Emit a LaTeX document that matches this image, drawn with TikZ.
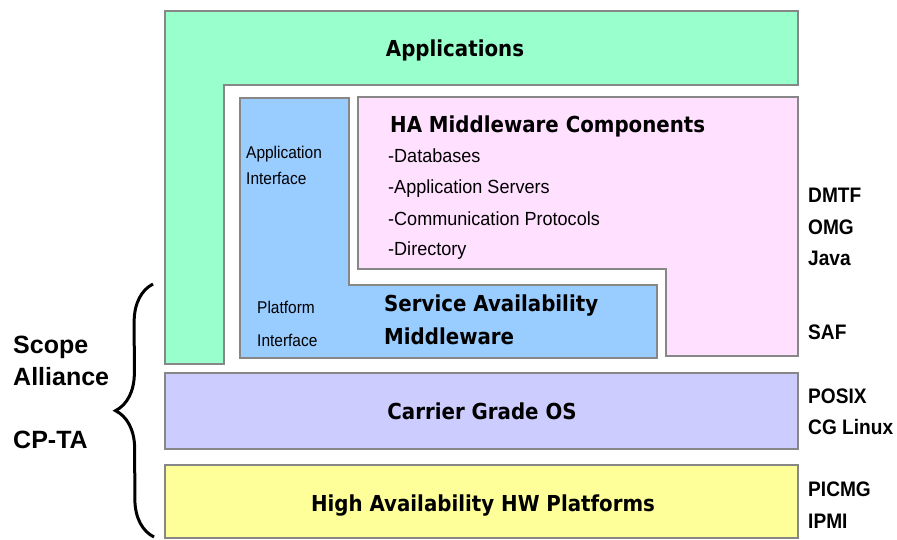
\documentclass[tikz,border=0pt]{standalone}
\usepackage{fontspec}
\setmainfont{Liberation Sans}
\newfontfamily\boxfont[FakeStretch=0.9]{DejaVu Sans}
\newfontfamily\listfont[FakeStretch=0.95]{Liberation Sans}
\newfontfamily\ifacefont[FakeStretch=0.91]{Liberation Sans}
\newfontfamily\tagfont[FakeStretch=0.91]{Liberation Sans}
\usetikzlibrary{decorations.pathreplacing}

\definecolor{appGreen}{RGB}{153,255,204}
\definecolor{samBlue}{RGB}{153,204,255}
\definecolor{haPink}{RGB}{255,224,255}
\definecolor{osPurple}{RGB}{204,204,255}
\definecolor{hwYellow}{RGB}{255,255,153}
\definecolor{borderGray}{RGB}{135,135,135}

\begin{document}
\begin{tikzpicture}
[x=1pt,y=-1pt,
  layerBox/.style={draw=borderGray,line width=1.4pt},
  boxLabel/.style={inner sep=0pt,font=\boxfont\bfseries\fontsize{22}{26}\selectfont},
  listLabel/.style={inner sep=0pt,anchor=base west,font=\listfont\fontsize{19}{22}\selectfont},
  ifaceLabel/.style={inner sep=0pt,anchor=base west,font=\ifacefont\fontsize{17}{20}\selectfont},
  tagLabel/.style={inner sep=0pt,anchor=base west,font=\tagfont\bfseries\fontsize{21}{24}\selectfont},
  scopeLabel/.style={inner sep=0pt,anchor=base west,font=\bfseries\fontsize{25}{30}\selectfont},
  braceDecorate/.style={decorate,decoration={brace,amplitude=38pt},line width=3pt}]
\useasboundingbox (0,0) rectangle (897,539);
%% layers
\path[layerBox,fill=appGreen] (165,11) -- (798,11) -- (798,85) -- (224,85)
  -- (224,364) -- (165,364) -- cycle;
\path[layerBox,fill=samBlue] (240,98) -- (349,98) -- (349,285) -- (657,285)
  -- (657,358) -- (240,358) -- cycle;
\path[layerBox,fill=haPink] (358,97) -- (798,97) -- (798,356) -- (666,356)
  -- (666,269) -- (358,269) -- cycle;
\path[layerBox,fill=osPurple] (165,373) rectangle (798,449);
\path[layerBox,fill=hwYellow] (165,465) rectangle (798,538);
%% layer titles
\node[boxLabel,anchor=base] (applications) at (455,56) {Applications};
\node[boxLabel,anchor=base west] (haComponents) at (390,132) {HA Middleware Components};
\node[boxLabel,anchor=base west] (serviceAvail) at (384,311) {Service Availability};
\node[boxLabel,anchor=base west] (middleware) at (384,344) {Middleware};
\node[boxLabel,anchor=base] (carrierOS) at (482,419) {Carrier Grade OS};
\node[boxLabel,anchor=base] (hwPlatforms) at (483,511) {High Availability HW Platforms};
%% component list
\foreach \nodename/\y/\txt in {
  databases/162/-Databases,
  appServers/193/-Application Servers,
  commProtocols/225/-Communication Protocols,
  directory/255/-Directory}
{
  \node[listLabel] (\nodename) at (388,\y) {\txt};
}
%% interfaces
\foreach \nodename/\x/\y/\txt in {
  appIfaceA/246/158/Application,
  appIfaceB/246/184/Interface,
  platIfaceA/257/313/Platform,
  platIfaceB/257/346/Interface}
{
  \node[ifaceLabel] (\nodename) at (\x,\y) {\txt};
}
%% standards
\foreach \nodename/\y/\txt in {
  dmtf/202/DMTF, omg/234/OMG, java/265/Java, saf/339/SAF,
  posix/403/POSIX, cgLinux/434/CG Linux, picmg/496/PICMG, ipmi/528/IPMI}
{
  \node[tagLabel] (\nodename) at (808,\y) {\txt};
}
%% scope
\node[scopeLabel] (scope) at (13,353) {Scope};
\node[scopeLabel] (alliance) at (13,385) {Alliance};
\node[scopeLabel] (cpta) at (13,448) {CP-TA};
\coordinate (braceTop) at (153,284);
\coordinate (braceBottom) at (154,537);
\draw[braceDecorate] (braceBottom) -- (braceTop);
\end{tikzpicture}
\end{document}
